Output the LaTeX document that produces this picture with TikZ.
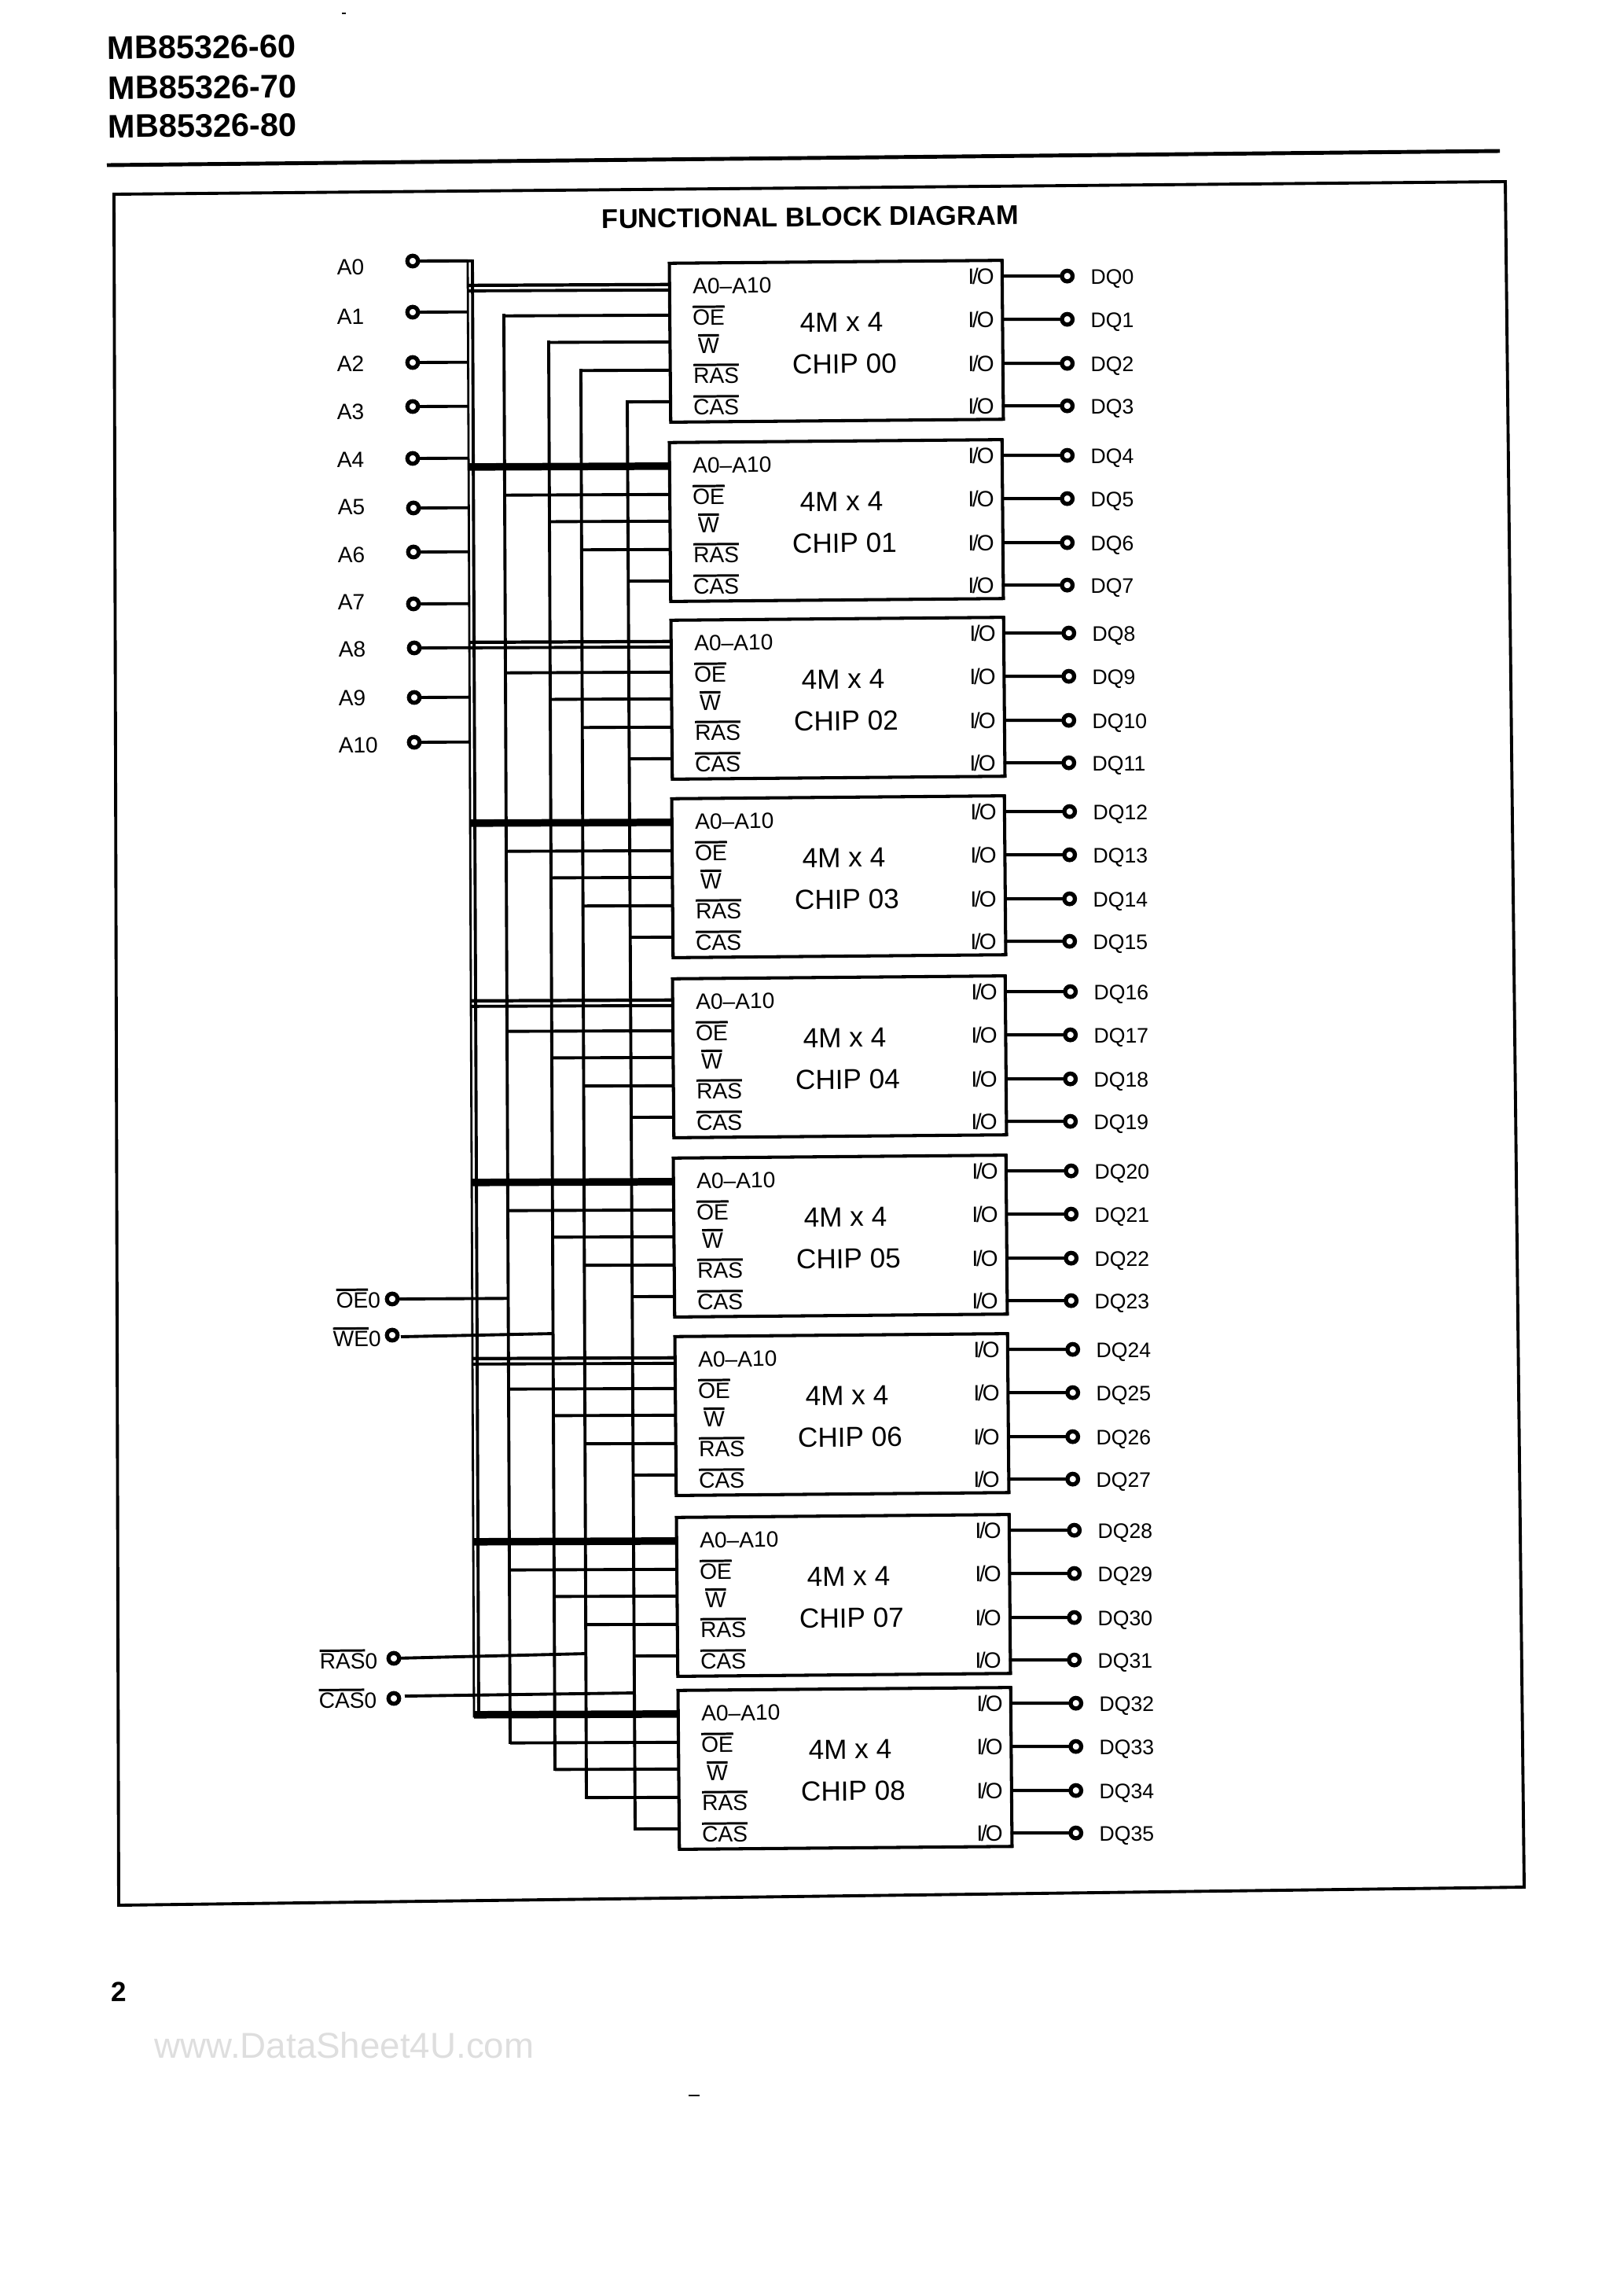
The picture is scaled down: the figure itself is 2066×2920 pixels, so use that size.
\documentclass[tikz,border=0pt]{standalone}
\usepackage{fontspec}
\setmainfont{Liberation Sans}
\usetikzlibrary{calc}
\definecolor{markgray}{gray}{0.87}
\newcommand{\ovl}[1]{\leavevmode\vbox{\hrule height 0.85pt\kern 0.6pt\hbox{#1}}}
\tikzstyle{chipbox}=[draw, line width=1.15pt, minimum width=4.23cm, minimum height=2.02cm, inner sep=0pt, outer sep=0pt]
\tikzstyle{pinlabel}=[anchor=mid west, inner sep=0pt, yshift=-0.4pt, font=\fontsize{8}{9}\selectfont]
\tikzstyle{chiptext}=[inner sep=0pt, font=\fontsize{10}{12}\selectfont]
\tikzstyle{headtext}=[anchor=west, inner sep=0pt, font=\fontsize{11.8}{13}\selectfont\bfseries]
\tikzstyle{pincircle}=[draw, circle, line width=1.5pt, minimum size=0.135cm, inner sep=0pt, outer sep=0pt]
\tikzstyle{sigline}=[line width=1.1pt]
\tikzstyle{busthin}=[line width=0.8pt, line cap=rect]
\tikzstyle{buswide}=[line width=2.7pt]

\begin{document}
\begin{tikzpicture}[x=0.01cm, y=-0.01cm, every node/.style={rotate=0.5}]
    \useasboundingbox (0,0) rectangle (2066,2920);

    % Page header
    \node[headtext] (head60) at (136,61) {MB85326-60};
    \node[headtext] (head70) at (137,112) {MB85326-70};
    \node[headtext] (head80) at (137,161) {MB85326-80};
    \draw[line width=1.4pt] (136,210) -- (1908,192);
    \draw[line width=0.8pt] (435,17) -- (440,17);

    % Outer frame and title
    \draw[line width=1.1pt] (145,247) -- (1915,231) -- (1939,2400) -- (151,2423) -- cycle;
    \node[inner sep=0pt, font=\fontsize{9.8}{12}\selectfont\bfseries] (title) at (1031,276) {FUNCTIONAL BLOCK DIAGRAM};

    % Bus and column rails
    \coordinate (busltop) at (595,332);
    \coordinate (buslbot) at (603,2183);
    \coordinate (busrtop) at (601,332);
    \coordinate (busrbot) at (609,2183);
    \coordinate (oetop) at (641,401);
    \coordinate (oebot) at (649,2216);
    \coordinate (wtop) at (698,435);
    \coordinate (wbot) at (706,2250);
    \coordinate (rastop) at (739,471);
    \coordinate (rasbot) at (746,2286);
    \coordinate (castop) at (798,511);
    \coordinate (casbot) at (808,2326);

    \draw[busthin] (busltop) -- (buslbot);
    \draw[sigline, line cap=rect] (busrtop) -- (busrbot);
    \foreach \sig in {oe,w,ras,cas} {
        \draw[sigline, line cap=rect] (\sig top) -- (\sig bot);
    }

    % Address inputs
    \foreach \k/\cx/\cy/\ly in {0/525/332/339,1/525/397/402,2/525/461/462,3/525/517/523,4/525/583/584,5/526/646/644,6/526/702/705,7/526/768/765,8/527/824/825,9/527/887/887,10/527/944/947} {
        \node[pincircle] (a\k) at (\cx,\cy) {};
        \node[pinlabel] (alabel\k) at (\cx-97,\ly) {A\k};
        \draw[sigline] (a\k) -- ($(busltop)!(a\k)!(buslbot)$);
    }
    \draw[sigline] (a0) -- ($(busrtop)!(a0)!(busrbot)$);

    % Control inputs
    \node[pincircle] (oezero) at (499,1652) {};
    \node[pinlabel] (oezerolabel) at (427,1653) {\ovl{OE}0};
    \coordinate (oejoin) at ($(oetop)!(oezero)!(oebot)$);
    \draw[sigline] (oezero) -- (oejoin);

    \node[pincircle] (wezero) at (499,1698) {};
    \node[pinlabel] (wezerolabel) at (423,1702) {\ovl{WE}0};
    \coordinate (westart) at (510,1700);
    \coordinate (wejoin) at (704,1696);
    \draw[sigline] (westart) -- (wejoin);

    \node[pincircle] (raszero) at (501,2109) {};
    \node[pinlabel] (raszerolabel) at (406,2112) {\ovl{RAS}0};
    \coordinate (rasjoin) at (746,2103);
    \draw[sigline] (raszero) -- (rasjoin);

    \node[pincircle] (caszero) at (501,2160) {};
    \node[pinlabel] (caszerolabel) at (405,2162) {\ovl{CAS}0};
    \coordinate (casstart) at (515,2157);
    \coordinate (casjoin) at (808,2153);
    \draw[sigline] (casstart) -- (casjoin);

    % Chips
    \foreach \id/\lx/\ty [count=\n from 0] in {00/852/335,01/852/563,02/854/789,03/855/1016,04/856/1245,05/857/1473,06/859/1700,07/861/1930,08/863/2150} {
        \node[chipbox] (chip\id) at (\lx+212,\ty+99) {};
        \node[chiptext] (size\id) at ($(chip\id.north west)+(219,75)$) {4M x 4};
        \node[chiptext] (name\id) at ($(chip\id.north west)+(223,128)$) {CHIP \id};
        \node[pinlabel] (addr\id) at ($(chip\id.north west)+(29,28)$) {A0--A10};
        \foreach \txt/\tx/\ly in {OE/29/68,W/36/104,RAS/30/142,CAS/30/182} {
            \node[pinlabel] (\txt\id) at ($(chip\id.north west)+(\tx,\ly)$) {\ovl{\txt}};
        }
        % Control pins go back to their rails
        \foreach \sig/\off in {oe/66,w/100,ras/136,cas/176} {
            \coordinate (\sig\id) at ($(chip\id.north west)+(0,\off)$);
            \draw[sigline] (\sig\id) -- ($(\sig top)!(\sig\id)!(\sig bot)$);
        }
        % Data pins
        \foreach \k/\off in {0/20,1/75,2/131,3/185} {
            \pgfmathtruncatemacro{\dq}{4*\n+\k}
            \coordinate (io\dq) at ($(chip\id.north east)+(0,\off)$);
            \node[pincircle] (dq\dq) at ($(io\dq)+(83,0)$) {};
            \node[pinlabel] (iolabel\dq) at ($(io\dq)+(-44,0)$) {I\kern-0.6pt/\kern-0.6pt O};
            \node[pinlabel, font=\fontsize{7.6}{9}\selectfont] (dqlabel\dq) at ($(io\dq)+(112,0)$) {DQ\dq};
            \draw[sigline] (io\dq) -- (dq\dq);
        }
    }

    % Address bus into each chip
    \foreach \id in {00,02,04,06} {
        \coordinate (addra\id) at ($(chip\id.north west)+(0,27)$);
        \coordinate (addrb\id) at ($(chip\id.north west)+(0,34)$);
        \draw[line width=1.2pt] (addra\id) -- ($(busltop)!(addra\id)!(buslbot)$);
        \draw[sigline] (addrb\id) -- ($(busltop)!(addrb\id)!(buslbot)$);
    }
    \foreach \id in {01,03,05,07,08} {
        \coordinate (addra\id) at ($(chip\id.north west)+(0,30)$);
        \draw[buswide] (addra\id) -- ($(busltop)!(addra\id)!(buslbot)$);
    }

    % Page number, stamp and scan specks
    \node[anchor=center, inner sep=0pt, font=\fontsize{10}{12}\selectfont\bfseries] (pageno) at (151,2533) {2};
    \node[anchor=west, inner sep=0pt, rotate=-0.5, text=markgray, font=\fontsize{13}{15}\selectfont] (stamp) at (196,2601) {www.DataSheet4U.com};
    \draw[line width=0.8pt] (876,2665) -- (890,2665);
\end{tikzpicture}
\end{document}
